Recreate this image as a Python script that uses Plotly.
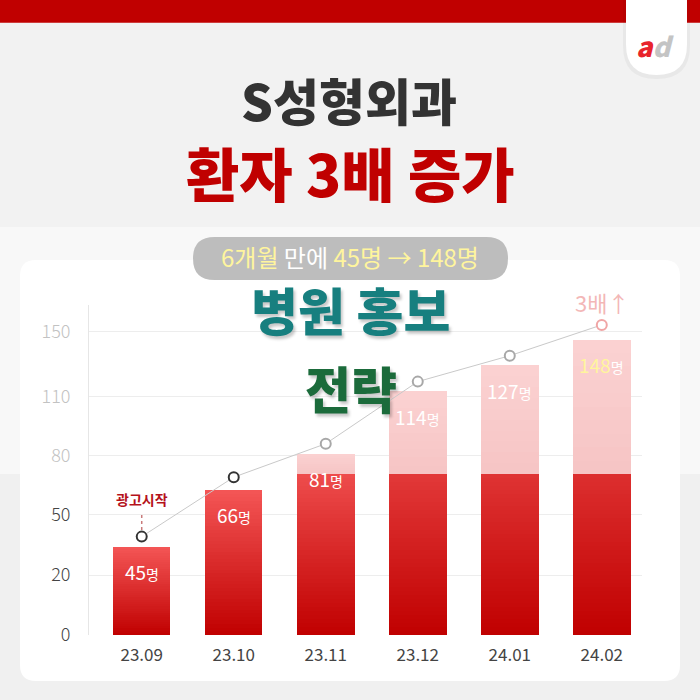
import numpy as np
import plotly.graph_objects as go

# ---------------- data ----------------
months = ["23.09", "23.10", "23.11", "23.12", "24.01", "24.02"]
patients = [45, 66, 81, 114, 127, 148]            # labelled values
bar_heights = [34, 62.5, 81, 113, 129, 145]        # bar tops as read on the axis
trend_values = [39, 69, 86, 119, 135, 154]         # trend-line points as read on the axis
red_cutoff = 70.6                                  # red part of bars ends here (axis value)
tick_labels = [0, 20, 50, 80, 110, 150]
tick_pos = [0, 1, 2.01, 2.99, 3.98, 5.06]          # evenly spaced (non-linear) axis

FONT = "Noto Sans CJK KR"


def to_axis(v):
    """piecewise-linear map from value to the axis position (with extrapolation)"""
    tl, tp = tick_labels, tick_pos
    for i in range(len(tl) - 1):
        if v <= tl[i + 1] or i == len(tl) - 2:
            return tp[i] + (v - tl[i]) / (tl[i + 1] - tl[i]) * (tp[i + 1] - tp[i])


# ---------------- geometry helpers (pixels -> paper) ----------------
W, H = 700, 700
L, R, T, B = 89, 642, 305, 635


def px(x):
    return (x - L) / (R - L)


def py(y):
    return (B - y) / (B - T)


def rrect(x0, y0, x1, y1, r):
    pts = [
        ("M", (x0 + r, y0)), ("L", (x1 - r, y0)), ("Q", (x1, y0), (x1, y0 + r)),
        ("L", (x1, y1 - r)), ("Q", (x1, y1), (x1 - r, y1)), ("L", (x0 + r, y1)),
        ("Q", (x0, y1), (x0, y1 - r)), ("L", (x0, y0 + r)), ("Q", (x0, y0), (x0 + r, y0)),
    ]
    s = ""
    for p in pts:
        s += p[0] + " " + " ".join(f"{px(a):.5f},{py(b):.5f}" for a, b in p[1:]) + " "
    return s + "Z"


def lerp_col(c0, c1, t):
    c = [round(a + (b - a) * t) for a, b in zip(c0, c1)]
    return f"rgb({c[0]},{c[1]},{c[2]})"


RED_BOT, RED_TOP = (192, 0, 0), (244, 86, 86)
PINK_BOT, PINK_TOP = (246, 196, 196), (251, 210, 210)

fig = go.Figure()

# ---------------- gradient bars (nested rectangles, tallest drawn first) ----------------
cut_u = to_axis(red_cutoff)
BW = 0.625
for i, h in enumerate(bar_heights):
    top = to_axis(h)
    red_top = min(top, cut_u)
    n_red = 40
    tops, cols = [], []
    if top > cut_u:
        n_p = 10
        pe = list(np.linspace(cut_u, top, n_p + 1))
        for k in range(n_p, 0, -1):
            tops.append(pe[k])
            cols.append(lerp_col(PINK_BOT, PINK_TOP, (k - 0.5) / n_p))
    edges = list(np.linspace(0, red_top, n_red + 1))
    for k in range(n_red, 0, -1):
        tops.append(edges[k])
        mid = (edges[k] + edges[k - 1]) / 2
        cols.append(lerp_col(RED_BOT, RED_TOP, mid / top))
    fig.add_trace(go.Bar(
        x=[i] * len(tops), y=tops, base=0, width=BW,
        marker=dict(color=cols, line=dict(width=0)),
        hoverinfo="skip", showlegend=False,
    ))

# ---------------- trend line ----------------
trend_u = [to_axis(v) for v in trend_values]
marker_cols = ["#333333", "#333333", "#a8a8a8", "#a8a8a8", "#a8a8a8", "#f0a5a5"]
fig.add_trace(go.Scatter(
    x=list(range(len(months))), y=trend_u, mode="lines+markers",
    line=dict(color="#c9c9c9", width=1),
    marker=dict(symbol="circle", size=10, color="white",
                line=dict(color=marker_cols, width=2)),
    cliponaxis=False, hoverinfo="skip", showlegend=False,
))
# dashed connector for "광고시작"
fig.add_trace(go.Scatter(
    x=[0, 0], y=[trend_u[0] + 0.11, trend_u[0] + 0.41], mode="lines",
    line=dict(color="#c97a7a", width=1.5, dash="dot"),
    hoverinfo="skip", showlegend=False,
))

# ---------------- annotations ----------------
ann = []
for i, (p, h) in enumerate(zip(patients, bar_heights)):
    num = f"<span style='color:#fff59d'>{p}</span>" if i == len(patients) - 1 else f"{p}"
    ann.append(dict(x=i, y=to_axis(h), xref="x", yref="y", yshift=-25,
                    text=f"{num}<span style='font-size:14px'>명</span>",
                    showarrow=False, font=dict(family=FONT, size=19, color="white"),
                    xanchor="center", yanchor="middle"))

ann.append(dict(x=0, y=trend_u[0], xref="x", yref="y", yshift=38, text="<b>광고시작</b>",
                showarrow=False, font=dict(family=FONT, size=14, color="#b5121b")))
ann.append(dict(x=5, y=trend_u[5], xref="x", yref="y", yshift=23, text="3배↑",
                showarrow=False, font=dict(family=FONT, size=22, color="#f3b7b7")))


def ptext(x, y, text, size, color, weight="bold", shadow="none"):
    return dict(x=px(x), y=py(y), xref="paper", yref="paper", text=text, showarrow=False,
                xanchor="center", yanchor="middle",
                font=dict(family=FONT, size=size, color=color, weight=weight, shadow=shadow))


ann.append(ptext(349, 99, "S성형외과", 50, "#333333", 900))
ann.append(ptext(350, 172, "환자 3배 증가", 58, "#c00000", 900))
ann.append(ptext(350, 256,
                 "<span style='color:#fff59d'>6개월</span> 만에 "
                 "<span style='color:#fff59d'>45명 → 148명</span>", 24, "#ffffff", "normal"))
ann.append(ptext(350, 309, "병원 홍보", 51, "#177f7f", 900,
                 shadow="2px 3px 3px rgba(0,0,0,0.22)"))
ann.append(ptext(351, 387, "전략", 50, "#1b6b3b", 900,
                 shadow="2px 3px 3px rgba(0,0,0,0.22)"))
# logo
ann.append(ptext(655, 45,
                 "<i><span style='color:#e8242b'>a</span><span style='color:#c4c4c4'>d</span></i>",
                 27, "#c4c4c4", 900))

# ---------------- background shapes ----------------
shapes = [
    dict(type="rect", xref="paper", yref="paper", x0=px(-5), x1=px(705), y0=py(-5), y1=py(227),
         fillcolor="#f2f2f2", line_width=0, layer="below"),
    dict(type="rect", xref="paper", yref="paper", x0=px(-5), x1=px(705), y0=py(474), y1=py(705),
         fillcolor="#f0f0f0", line_width=0, layer="below"),
    dict(type="path", xref="paper", yref="paper", path=rrect(20, 260, 680, 681, 16),
         fillcolor="white", line_width=0, layer="below"),
    dict(type="rect", xref="paper", yref="paper", x0=px(-5), x1=px(705), y0=py(-5), y1=py(22.7),
         fillcolor="#c00000", line_width=0, layer="below"),
    dict(type="path", xref="paper", yref="paper", path=rrect(623, -40, 690, 79, 33),
         fillcolor="rgba(0,0,0,0.04)", line_width=0, layer="below"),
    dict(type="path", xref="paper", yref="paper", path=rrect(626, -40, 687, 75, 30.5),
         fillcolor="white", line_width=0, layer="below"),
    dict(type="path", xref="paper", yref="paper", path=rrect(193, 237, 508, 280, 21.5),
         fillcolor="#bdbdbd", line_width=0, layer="below"),
]

tick_text = []
for i, t in enumerate(tick_labels):
    col = "#444444" if i < 3 else "#c2c2c2"
    tick_text.append(f"<span style='color:{col}'>{t}</span>")

fig.update_layout(
    width=W, height=H,
    margin=dict(l=L, r=W - R, t=T, b=H - B, pad=0),
    paper_bgcolor="#f8f8f8", plot_bgcolor="rgba(0,0,0,0)",
    barmode="overlay", bargap=0, showlegend=False,
    annotations=ann, shapes=shapes,
    xaxis=dict(range=[-0.573, 5.437], tickvals=list(range(len(months))), ticktext=months,
               showgrid=False, zeroline=False, showline=False, fixedrange=True,
               tickfont=dict(family=FONT, size=17, color="#444444"), ticklabelstandoff=8),
    yaxis=dict(range=[0, 5.5], tickvals=tick_pos, ticktext=tick_text,
               showgrid=True, gridcolor="#ededed", gridwidth=1, zeroline=False,
               showline=True, linecolor="#e6e6e6", linewidth=1, fixedrange=True,
               tickfont=dict(family=FONT, size=18, color="#c2c2c2", weight=300),
               ticklabelstandoff=14),
)

fig.write_html(
    "out.html",
    config={"displayModeBar": False},
    post_script="document.body.style.margin='0';document.body.style.overflow='hidden';",
)
